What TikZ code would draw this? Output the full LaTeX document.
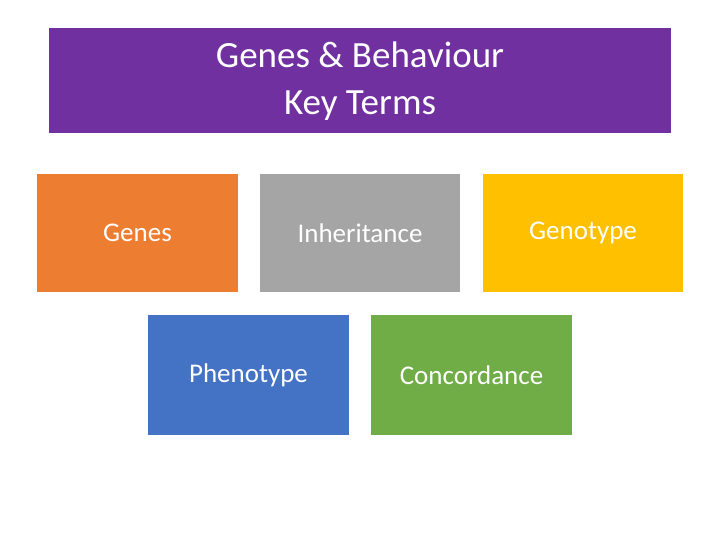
\documentclass[tikz,border=0pt]{standalone}
\usepackage{fontspec}
\setmainfont{Carlito}
\definecolor{cpurple}{HTML}{7030A0}
\definecolor{corange}{HTML}{ED7D31}
\definecolor{cgray}{HTML}{A5A5A5}
\definecolor{cgold}{HTML}{FFC000}
\definecolor{cblue}{HTML}{4472C4}
\definecolor{cgreen}{HTML}{70AD47}
\begin{document}
\begin{tikzpicture}[x=1pt,y=-1pt,
  box/.style={draw=none,inner sep=0,text=white,font=\fontsize{27}{32}\selectfont}]
\useasboundingbox (0,0) rectangle (720,540);
\fill[white] (0,0) rectangle (720,540);
\fill[cpurple] (49,28) rectangle (671,133);
\node[box,align=center,font=\fontsize{37}{47}\selectfont] (title) at (360,81) {Genes \& Behaviour\\Key Terms};
\fill[corange] (37,174) rectangle (238,292);
\node[box] (genes) at (137.5,233) {Genes};
\fill[cgray] (260,174) rectangle (460,292);
\node[box] (inh) at (360,233) {Inheritance};
\fill[cgold] (483,174) rectangle (683,292);
\node[box] (geno) at (583,233) {Genotype};
\fill[cblue] (148,315) rectangle (349,435);
\node[box] (pheno) at (248.5,375) {Phenotype};
\fill[cgreen] (371,315) rectangle (572,435);
\node[box] (conc) at (471.5,375) {Concordance};
\end{tikzpicture}
\end{document}
